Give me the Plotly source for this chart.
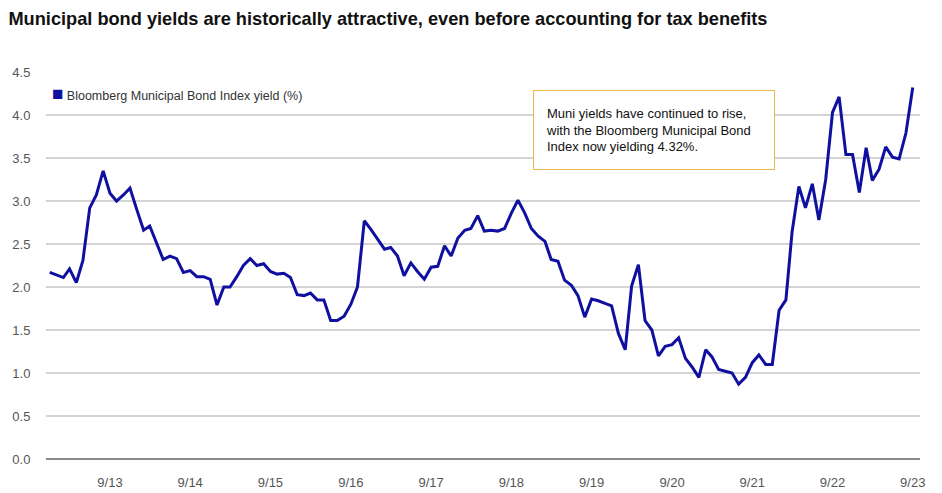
import pandas as pd
import plotly.graph_objects as go

# Monthly Bloomberg Municipal Bond Index yield (%), Dec 2012 - Sep 2023
start_month = "2012-12-01"
yields = [
    2.17, 2.14, 2.11, 2.21, 2.05, 2.31, 2.92, 3.07, 3.35, 3.09, 3.00, 3.07, 3.15,
    2.90, 2.66, 2.71, 2.52, 2.32, 2.36, 2.33, 2.17, 2.19, 2.12, 2.12, 2.09,
    1.79, 2.00, 2.00, 2.12, 2.25, 2.33, 2.25, 2.27, 2.18, 2.15, 2.16, 2.11,
    1.91, 1.90, 1.93, 1.85, 1.85, 1.61, 1.61, 1.66, 1.80, 2.00, 2.77, 2.67,
    2.55, 2.44, 2.46, 2.36, 2.13, 2.28, 2.18, 2.09, 2.23, 2.24, 2.48, 2.36,
    2.57, 2.66, 2.68, 2.83, 2.65, 2.66, 2.65, 2.68, 2.86, 3.01, 2.86, 2.68,
    2.59, 2.53, 2.32, 2.30, 2.08, 2.02, 1.90, 1.65, 1.86, 1.84, 1.81, 1.78,
    1.46, 1.27, 2.01, 2.26, 1.61, 1.50, 1.20, 1.31, 1.33, 1.41, 1.17, 1.07,
    0.95, 1.27, 1.19, 1.04, 1.02, 1.00, 0.87, 0.95, 1.12, 1.21, 1.10, 1.10,
    1.73, 1.85, 2.64, 3.17, 2.92, 3.20, 2.78, 3.25, 4.03, 4.21, 3.54, 3.54,
    3.10, 3.62, 3.24, 3.37, 3.63, 3.51, 3.49, 3.79, 4.32,
]
dates = pd.date_range(start_month, periods=len(yields), freq="MS")

tick_dates = ["2013-09-01", "2014-09-01", "2015-09-01", "2016-09-01", "2017-09-01",
              "2018-09-01", "2019-09-01", "2020-09-01", "2021-09-01", "2022-09-01",
              "2023-09-01"]
tick_labels = ["9/13", "9/14", "9/15", "9/16", "9/17", "9/18", "9/19", "9/20",
               "9/21", "9/22", "9/23"]
y_ticks = [0.0, 0.5, 1.0, 1.5, 2.0, 2.5, 3.0, 3.5, 4.0, 4.5]

title_text = "Municipal bond yields are historically attractive, even before accounting for tax benefits"
legend_text = "Bloomberg Municipal Bond Index yield (%)"
note_text = ("Muni yields have continued to rise,<br>with the Bloomberg Municipal Bond"
             "<br>Index now yielding 4.32%.")

LINE = "#1010a0"
sans = "Liberation Sans, Arial, sans-serif"

fig = go.Figure()
fig.add_trace(go.Scatter(x=dates, y=yields, mode="lines",
                         line=dict(color=LINE, width=3), showlegend=False,
                         name=legend_text))

fig.update_layout(
    width=942, height=493,
    margin=dict(l=46, r=22, t=72, b=34),
    plot_bgcolor="white", paper_bgcolor="white",
    font=dict(family=sans, color="#222"),
    title=dict(text=title_text, x=0.009, xanchor="left", xref="container",
               y=1 - 19 / 493, yanchor="middle", yref="container",
               font=dict(family=sans, size=18.2, color="#111", weight="bold")),
    xaxis=dict(range=["2012-11-14", "2023-10-04"], tickvals=tick_dates,
               ticktext=tick_labels, showgrid=False, zeroline=False,
               ticks="outside", ticklen=11, tickcolor="rgba(0,0,0,0)",
               tickfont=dict(family=sans, size=13, color="#555"),
               showline=False, automargin=False),
    yaxis=dict(range=[0, 4.5], tickvals=y_ticks, tickformat=".1f",
               showgrid=True, gridcolor="#d4d4d4", gridwidth=1.5,
               zeroline=True, zerolinecolor="#8a8a8a", zerolinewidth=2,
               ticks="outside", ticklen=12, tickcolor="rgba(0,0,0,0)",
               tickfont=dict(family=sans, size=13, color="#555"),
               showline=False, automargin=False),
    showlegend=False,
)

# legend key
fig.add_annotation(xref="paper", yref="paper", x=(50 - 46) / 874, y=(459 - 93) / 387,
                   xanchor="left", yanchor="middle", showarrow=False,
                   text=f"<span style='color:{LINE};font-size:19px'>■</span> "
                        f"<span style='font-size:12.5px'>{legend_text}</span>",
                   font=dict(family=sans, color="#333"))

# callout box
fig.add_annotation(xref="paper", yref="paper", x=(533 - 46) / 874, y=(459 - 90) / 387,
                   xanchor="left", yanchor="top", showarrow=False, align="left",
                   text=note_text, width=216, height=54, borderpad=12,
                   bordercolor="#f0b548", borderwidth=1, bgcolor="white",
                   font=dict(family=sans, size=13, color="#111"))

fig.write_html("out.html")
